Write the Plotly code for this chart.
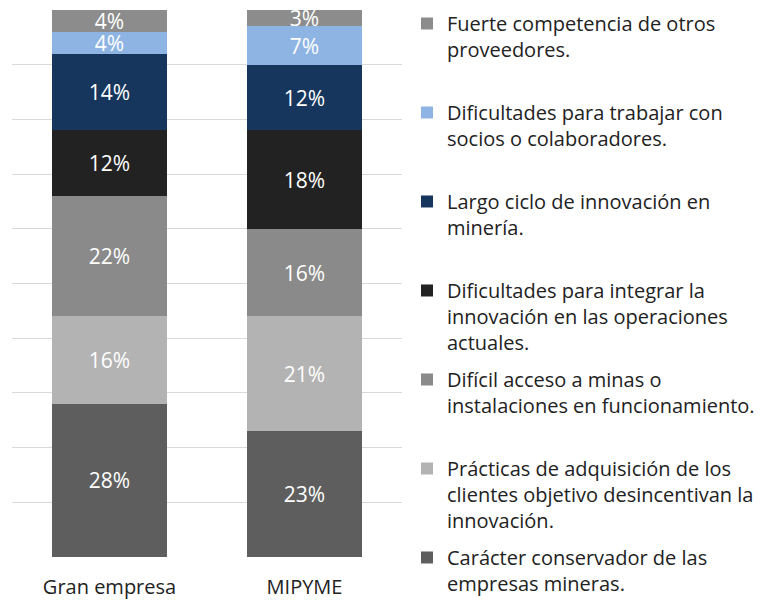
import plotly.graph_objects as go

CATEGORIES = ["Gran empresa", "MIPYME"]

# bottom -> top of the stack
SERIES = [
    "Carácter conservador de las<br>empresas mineras.",
    "Prácticas de adquisición de los<br>clientes objetivo desincentivan la<br>innovación.",
    "Difícil acceso a minas o<br>instalaciones en funcionamiento.",
    "Dificultades para integrar la<br>innovación en las operaciones<br>actuales.",
    "Largo ciclo de innovación en<br>minería.",
    "Dificultades para trabajar con<br>socios o colaboradores.",
    "Fuerte competencia de otros<br>proveedores.",
]
GRAN = [28, 16, 22, 12, 14, 4, 4]
MIPYME = [23, 21, 16, 18, 12, 7, 3]
COLORS = ["#5e5e5e", "#b3b3b3", "#8a8a8a", "#222222", "#17365d", "#8eb4e3", "#8c8c8c"]

FONT = "Open Sans"

# page body has an 8px margin, so the figure is 8px smaller than the window
W, H = 757, 593

fig = go.Figure()
for i, name in enumerate(SERIES):
    # pad 2-line entries so every legend item is 3 lines tall (not the last one)
    label = name if (name.count("<br>") == 2 or i == 0) else name + "<br> "
    fig.add_trace(go.Bar(
        x=CATEGORIES, y=[GRAN[i], MIPYME[i]], name=label,
        legendgroup=f"g{i}", legendrank=100 - i,
        marker=dict(color=COLORS[i], line=dict(width=0)),
        texttemplate="%{y}%", textposition="inside", insidetextanchor="middle",
        constraintext="none", cliponaxis=False,
        textfont=dict(color="white", size=21, family=FONT),
    ))

fig.update_layout(
    barmode="stack", bargap=0.415,
    width=W, height=H,
    margin=dict(l=4, r=363, t=2, b=44, autoexpand=False),
    plot_bgcolor="white", paper_bgcolor="white",
    font=dict(family=FONT, color="#222222"),
    showlegend=True,
    legend=dict(traceorder="grouped", valign="top", tracegroupgap=8,
                x=1.0128, xanchor="left", y=1.011, yanchor="top",
                maxheight=1.0,
                font=dict(size=20, family=FONT, color="#222222"),
                itemclick=False),
)
fig.update_xaxes(showline=False, ticks="", ticklabelstandoff=16,
                 tickfont=dict(size=20, color="#222222"))
fig.update_yaxes(range=[0, 100], dtick=10, showticklabels=False, gridcolor="#d9d9d9",
                 gridwidth=1, zeroline=False, showline=False)

fig.write_html("out.html")
